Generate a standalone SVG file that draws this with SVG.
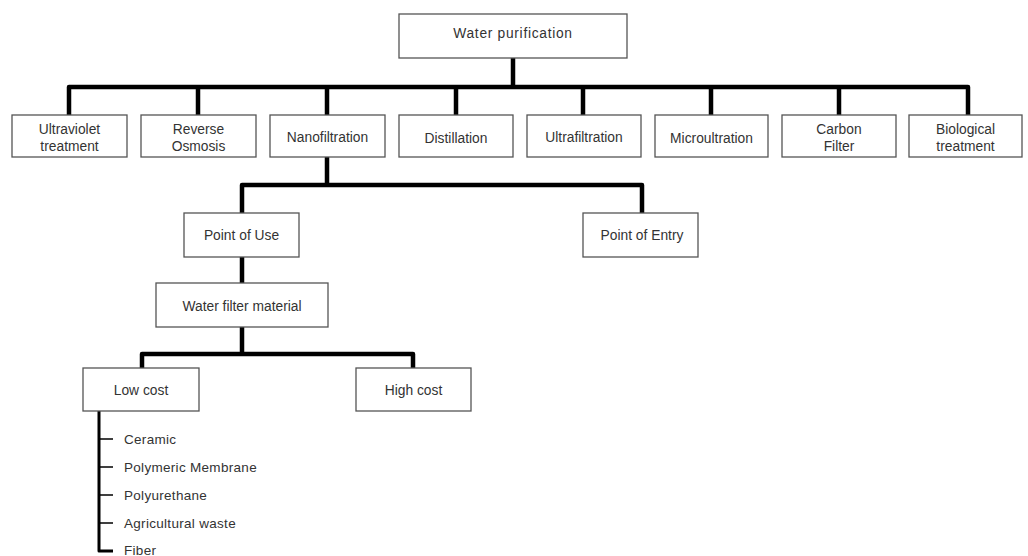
<svg xmlns="http://www.w3.org/2000/svg" width="1028" height="556" viewBox="0 0 1028 556">
<style>
.box{fill:#fff;stroke:#555;stroke-width:1.3}
.t{font-family:"Liberation Sans",Arial,sans-serif;font-size:13.8px;fill:#333;text-anchor:middle}
.tl{font-family:"Liberation Sans",Arial,sans-serif;font-size:13.5px;fill:#333;letter-spacing:0.3px}
.c{fill:none;stroke:#000;stroke-width:4.5;stroke-linejoin:round}
.c2{fill:none;stroke:#000;stroke-width:3;stroke-linejoin:round}
.tk{stroke:#000;stroke-width:1.6}
</style>
<rect width="1028" height="556" fill="#fff"/>
<g id="connectors">
<path class="c" d="M513 58V87M69 115V87H968V115M198 87V115M327 87V115M456 87V115M583 87V115M711 87V115M839 87V115"/>
<path class="c" d="M327 157V185M242 213V185H642V213"/>
<path class="c" d="M242 257V283M242 327V354M142 368V354H413V368"/>
<path class="c2" d="M99 411V551H113"/>
<path class="tk" d="M99 439H113M99 467H113M99 495H113M99 523H113"/>
</g>
<g id="n-water"><rect class="box" x="399" y="14" width="228" height="44"/><text class="t" x="513" y="38" font-size="18px" letter-spacing="0.7px">Water purification</text></g>
<g id="n-uv"><rect class="box" x="12" y="115" width="115" height="42"/><text class="t" x="69.5" y="134">Ultraviolet</text><text class="t" x="69.5" y="151">treatment</text></g>
<g id="n-ro"><rect class="box" x="141" y="115" width="115" height="42"/><text class="t" x="198.5" y="134">Reverse</text><text class="t" x="198.5" y="151">Osmosis</text></g>
<g id="n-nano"><rect class="box" x="270" y="115" width="115" height="42"/><text class="t" x="327.5" y="142">Nanofiltration</text></g>
<g id="n-dist"><rect class="box" x="399" y="115" width="114" height="42"/><text class="t" x="456" y="143">Distillation</text></g>
<g id="n-ultra"><rect class="box" x="527" y="115" width="114" height="42"/><text class="t" x="584" y="142">Ultrafiltration</text></g>
<g id="n-micro"><rect class="box" x="655" y="115" width="113" height="42"/><text class="t" x="711.5" y="143">Microultration</text></g>
<g id="n-carbon"><rect class="box" x="782" y="115" width="114" height="42"/><text class="t" x="839" y="134">Carbon</text><text class="t" x="839" y="151">Filter</text></g>
<g id="n-bio"><rect class="box" x="909" y="115" width="113" height="42"/><text class="t" x="965.5" y="134">Biological</text><text class="t" x="965.5" y="151">treatment</text></g>
<g id="n-pou"><rect class="box" x="184" y="213" width="115" height="44"/><text class="t" x="241.5" y="240">Point of Use</text></g>
<g id="n-poe"><rect class="box" x="583" y="213" width="115" height="44"/><text class="t" x="642" y="240">Point of Entry</text></g>
<g id="n-wfm"><rect class="box" x="156" y="283" width="172" height="44"/><text class="t" x="242" y="311">Water filter material</text></g>
<g id="n-low"><rect class="box" x="83" y="368" width="116" height="43"/><text class="t" x="141" y="395">Low cost</text></g>
<g id="n-high"><rect class="box" x="356" y="368" width="115" height="43"/><text class="t" x="413.5" y="395">High cost</text></g>
<g id="n-list">
<text class="tl" x="124" y="444">Ceramic</text>
<text class="tl" x="124" y="472">Polymeric Membrane</text>
<text class="tl" x="124" y="500">Polyurethane</text>
<text class="tl" x="124" y="528">Agricultural waste</text>
<text class="tl" x="124" y="555">Fiber</text>
</g>
</svg>
